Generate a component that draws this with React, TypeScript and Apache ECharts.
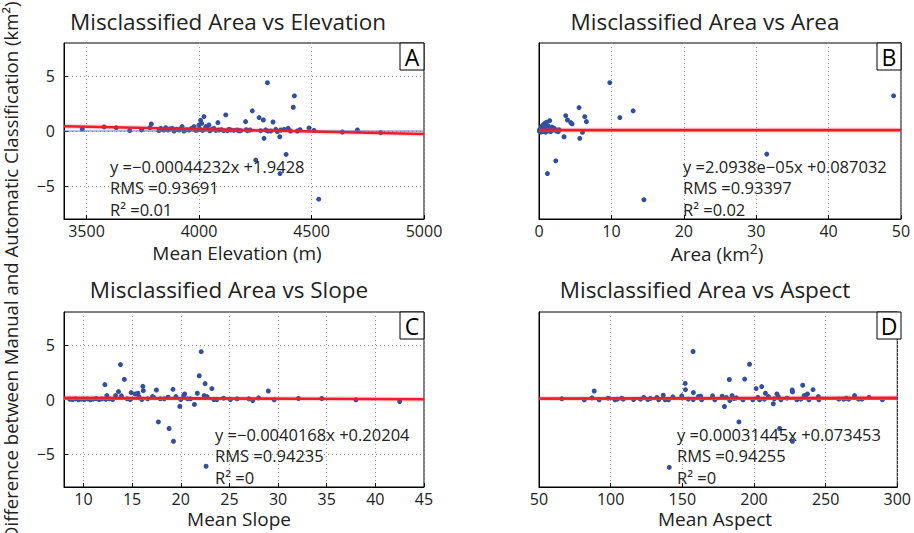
import React, { useEffect, useRef } from "react";
import * as echarts from "echarts";

// ---- Data ----
const elevationPoints: number[][] = [
  [3481, 0.18], [3578, 0.37], [3632, 0.30], [3692, 0.03], [3745, 0.10], [3782, 0.30], [3788, 0.64],
  [3822, 0.03], [3830, 0.24], [3838, 0.12], [3844, 0.09], [3852, 0.30], [3862, 0.09], [3870, 0.18],
  [3881, 0.24], [3889, 0.00], [3900, 0.15], [3911, 0.09], [3921, 0.24], [3925, 0.40], [3933, 0.00],
  [3945, 0.12], [3956, 0.09], [3967, 0.24], [3978, 0.40], [3985, 0.05], [3993, 0.09], [4000, 0.55],
  [4004, 0.18], [4007, 0.97], [4012, 0.70], [4016, 0.05], [4022, 1.31], [4026, 0.15], [4030, 0.40],
  [4037, 0.24], [4044, 0.55], [4048, 0.02], [4052, 0.09], [4060, 0.18], [4067, 0.24], [4075, 0.05],
  [4084, 0.76], [4089, 0.09], [4100, 0.12], [4110, 0.03], [4119, 1.46], [4126, 0.03], [4133, 0.15],
  [4141, 0.09], [4155, 0.05], [4170, 0.09], [4178, 0.02], [4185, 0.03], [4207, 0.85], [4210, 0.12],
  [4215, 0.03], [4227, 0.09], [4237, 1.83], [4252, -2.65], [4267, 1.22], [4274, 0.03], [4286, 1.00],
  [4289, -0.67], [4296, 0.10], [4304, 4.39], [4306, 0.00], [4319, 0.00], [4329, 0.82], [4341, 0.15],
  [4348, -0.06], [4359, -0.52], [4360, -3.87], [4363, 0.09], [4378, 0.15], [4387, -2.13], [4396, 0.24],
  [4407, 0.00], [4419, 2.16], [4424, 3.20], [4437, 0.00], [4449, 0.12], [4489, 0.27], [4511, 0.06],
  [4532, -6.20], [4637, -0.09], [4704, 0.09], [4807, -0.15],
];

const areaPoints: number[][] = [
  [0.05, 0.0], [0.1, 0.15], [0.15, -0.05], [0.2, 0.05], [0.25, 0.1], [0.3, -0.1], [0.34, 0.4], [0.4, 0.0],
  [0.45, 0.2], [0.5, -0.05], [0.57, 0.55], [0.6, 0.1], [0.7, 0.3], [0.75, 0.0], [0.8, 0.7], [0.85, 0.15],
  [0.9, -0.1], [1.02, 0.79], [1.1, 0.3], [1.16, -3.87], [1.2, 0.0], [1.25, 0.09], [1.3, 0.45], [1.48, 0.94],
  [1.5, 0.2], [1.6, -0.05], [1.7, 0.03], [1.8, 0.35], [2.0, 0.1], [2.1, 0.24], [2.31, -2.71], [2.4, 0.0],
  [2.55, 0.09], [2.65, -0.06], [2.8, 0.1], [3.46, -0.52], [3.69, 1.39], [3.93, 1.0], [4.39, 0.76],
  [4.57, 0.64], [5.53, 2.13], [5.63, -0.67], [6.0, -0.12], [6.32, 1.3], [6.55, 0.85], [9.78, 4.39],
  [11.17, 1.22], [13.0, 1.83], [14.49, -6.25], [31.46, -2.1], [48.98, 3.2],
];

const slopePoints: number[][] = [
  [8.6, 0.02], [8.9, 0.0], [9.2, 0.05], [9.5, -0.02], [9.8, 0.03], [10.1, 0.0], [10.4, 0.05], [10.7, -0.02],
  [11.0, 0.03], [11.3, 0.08], [11.6, 0.0], [11.9, 0.05], [12.2, 1.36], [12.3, 0.02], [12.4, 0.36],
  [12.7, 0.05], [13.0, 0.0], [13.3, 0.36], [13.6, 0.72], [13.8, 3.19], [13.9, 0.33], [14.2, 1.84],
  [14.5, 0.06], [14.8, 0.0], [14.9, 0.63], [15.3, 0.51], [15.6, 0.57], [15.7, 0.27], [16.0, 0.0],
  [16.1, 1.2], [16.15, 0.81], [16.6, 0.06], [17.1, 0.27], [17.2, 0.21], [17.5, 0.87], [17.7, -2.05],
  [17.9, 0.06], [18.3, 0.06], [18.7, 0.21], [18.8, -2.65], [19.2, 0.93], [19.25, -3.82], [19.5, 0.27],
  [19.9, -0.63], [20.0, 0.0], [20.3, 0.36], [20.4, 0.51], [20.7, 0.06], [21.0, 0.06], [21.4, -0.45],
  [21.7, 0.57], [21.9, 2.17], [22.1, 4.37], [22.4, 0.36], [22.5, 1.45], [22.6, -6.1], [22.7, 0.27],
  [23.2, 1.0], [23.4, 0.0], [23.7, 0.0], [24.4, 0.12], [25.1, 0.0], [25.8, 0.06], [27.0, 0.06],
  [27.4, -0.09], [28.0, 0.15], [29.0, 0.78], [29.6, -0.03], [32.1, 0.09], [34.5, 0.09], [38.0, -0.03],
  [42.5, -0.18],
];

const aspectPoints: number[][] = [
  [65.9, 0.06], [81.6, -0.03], [86.9, 0.15], [88.5, 0.78], [92, -0.03], [98.2, 0.12], [103, -0.03],
  [104.7, 0.03], [107.7, 0.12], [108.8, 0.03], [116, 0], [120.8, 0.03], [123.1, 0.18], [125.9, 0],
  [127.7, 0.09], [132.3, 0.18], [133.5, -0.03], [136.7, 0.39], [138.1, -0.03], [140.4, -0.03],
  [140.9, -6.2], [143.4, 0.24], [149.6, 0.33], [152, 1.47], [152.2, 0.9], [154.2, 0.03], [157.5, 4.39],
  [157.6, 0], [157.7, 0.63], [161.2, 0.27], [162.8, 0.3], [163.5, -0.03], [171.1, 0.33], [172.7, -0.03],
  [177.8, 0.3], [179.4, -0.64], [180.7, 0.18], [182.8, 1.83], [183.1, -0.09], [184.7, 0.36], [186.1, 0.09],
  [187.7, 0.15], [189.5, -2.05], [192.3, -0.03], [193.5, 1.87], [196.9, 3.22], [199.2, -0.03], [201.5, 1.0],
  [202.7, 0.18], [203.9, -0.03], [205.4, 1.18], [207.3, 0.03], [208.0, 0.57], [210.1, 0.27], [213.5, -0.39],
  [214.2, 0.06], [216, 0.51], [217, 0.27], [217.9, -2.65], [218.8, -0.03], [223, 0.12], [226.7, 0.87],
  [226.9, 0.69], [226.8, -3.82], [229.9, -0.03], [232.7, 0.03], [234, 1.3], [235, 0.36], [236.1, 0.21],
  [237.3, 0.51], [238.4, -0.03], [241.2, 0.9], [244.9, 0.27], [245.3, -0.03], [259.2, 0.03], [262.6, 0.03],
  [264.4, 0.12], [266.1, 0.03], [270.2, 0.36], [273, 0.03], [275.3, 0.03], [280.3, 0.18], [289.6, -0.03],
];

const panelTitles = [
  "Misclassified Area vs Elevation",
  "Misclassified Area vs Area",
  "Misclassified Area vs Slope",
  "Misclassified Area vs Aspect",
];
const panelLetters = ["A", "B", "C", "D"];
const fitSlopes = [-0.00044232, 2.0938e-5, -0.0040168, 0.00031445];
const fitIntercepts = [1.9428, 0.087032, 0.20204, 0.073453];
const fitEquations = [
  "y =\u22120.00044232x +1.9428",
  "y =2.0938e\u221205x +0.087032",
  "y =\u22120.0040168x +0.20204",
  "y =0.00031445x +0.073453",
];
const rmsValues = ["0.93691", "0.93397", "0.94235", "0.94255"];
const r2Values = ["0.01", "0.02", "0", "0"];
const xMins = [3400, 0, 8, 50];
const xMaxs = [5000, 50, 45, 300];
const xTicks = [
  [3500, 4000, 4500, 5000],
  [0, 10, 20, 30, 40, 50],
  [10, 15, 20, 25, 30, 35, 40, 45],
  [50, 100, 150, 200, 250, 300],
];
const yTicks = [-5, 0, 5];
const yMin = -8;
const yMax = 8;

const FONT = "Open Sans";

export default function App() {
  const ref = useRef<HTMLDivElement>(null);
  useEffect(() => {
    if (!ref.current) return;
    const chart = echarts.init(ref.current, null, { renderer: "svg" });
    const datasets = [elevationPoints, areaPoints, slopePoints, aspectPoints];
    const grids = [
      { left: 64, top: 43, width: 360, height: 176 },
      { left: 539, top: 43, width: 362, height: 176 },
      { left: 64, top: 312, width: 360, height: 175 },
      { left: 539, top: 312, width: 362, height: 175 },
    ];
    const showY = [true, false, true, false];

    const series: any[] = [];
    datasets.forEach((d, i) => {
      series.push({
        type: "line",
        xAxisIndex: i,
        yAxisIndex: i,
        data: [[xMins[i], 0], [xMaxs[i], 0]],
        symbol: "none",
        lineStyle: { color: "#5a7fc0", width: 1 },
        silent: true,
      });
      series.push({
        type: "scatter",
        xAxisIndex: i,
        yAxisIndex: i,
        data: d,
        symbolSize: 5,
        itemStyle: { color: "#2f4f9f", opacity: 1 },
      });
      const fit = [
        [xMins[i], fitSlopes[i] * xMins[i] + fitIntercepts[i]],
        [xMaxs[i], fitSlopes[i] * xMaxs[i] + fitIntercepts[i]],
      ];
      series.push({
        type: "line",
        xAxisIndex: i,
        yAxisIndex: i,
        data: fit,
        symbol: "none",
        lineStyle: { color: "rgba(235,60,70,0.2)", width: 5 },
        silent: true,
      });
      series.push({
        type: "line",
        xAxisIndex: i,
        yAxisIndex: i,
        data: fit,
        symbol: "none",
        lineStyle: { color: "#e8202a", width: 2.5 },
        silent: true,
      });
    });

    const textStyleBase = { fontFamily: FONT, fill: "#222" };
    const titlePos = [[228, 21], [705, 21], [229, 289], [705, 289]];
    const namePos = [[237, 253], [717, 254], [239, 519], [715, 519]];
    const eqPos = [[110, 166], [683, 166], [215, 434], [677, 434]];
    const letterBox = [[400, 43], [877, 43], [400, 312], [877, 312]];

    const graphic: any[] = [];
    panelTitles.forEach((t, i) => {
      graphic.push({
        type: "text",
        x: titlePos[i][0],
        y: titlePos[i][1],
        style: { ...textStyleBase, text: t, fontSize: 22.5, textAlign: "center", textVerticalAlign: "middle" },
      });
      graphic.push({
        type: "rect",
        shape: { x: letterBox[i][0], y: letterBox[i][1], width: 24, height: 27 },
        style: { fill: "#fff", stroke: "#000", lineWidth: 1 },
        z: 10,
      });
      graphic.push({
        type: "text",
        x: letterBox[i][0] + 12,
        y: letterBox[i][1] + 14,
        z: 11,
        style: { ...textStyleBase, fill: "#000", text: panelLetters[i], fontSize: 23, textAlign: "center", textVerticalAlign: "middle" },
      });
      const lines = [fitEquations[i], "RMS =" + rmsValues[i], "R\u00B2 =" + r2Values[i]];
      lines.forEach((ln, k) => {
        graphic.push({
          type: "text",
          x: eqPos[i][0],
          y: eqPos[i][1] + k * 21.5,
          z: 12,
          style: { ...textStyleBase, text: ln, fontSize: 16.5, textAlign: "left", textVerticalAlign: "middle" },
        });
      });
    });
    const axisNames = ["Mean Elevation (m)", "Area (km{sup|2})", "Mean Slope", "Mean Aspect"];
    axisNames.forEach((n, i) => {
      graphic.push({
        type: "text",
        x: namePos[i][0],
        y: namePos[i][1],
        style: {
          ...textStyleBase,
          text: n,
          fontSize: 19,
          textAlign: "center",
          textVerticalAlign: "middle",
          rich: { sup: { fontSize: 14, verticalAlign: "top", padding: [0, 0, 12, 0], fontFamily: FONT, fill: "#222" } },
        },
      });
    });
    graphic.push({
      type: "text",
      x: 10,
      y: 540,
      rotation: Math.PI / 2,
      style: {
        ...textStyleBase,
        text: "Difference between Manual and Automatic Classification (km\u00B2)",
        fontSize: 18.6,
        textAlign: "left",
        textVerticalAlign: "middle",
      },
    });

    const fmt = (v: number) => (v < 0 ? "\u2212" + Math.abs(v) : String(v));
    const option: any = {
      animation: false,
      backgroundColor: "#fff",
      grid: grids.map((g) => ({ ...g, show: true, borderColor: "#000", borderWidth: 1, backgroundColor: "transparent", containLabel: false })),
      xAxis: grids.map((_, i) => ({
        type: "value",
        gridIndex: i,
        min: xMins[i],
        max: xMaxs[i],
        axisLine: { show: true, onZero: false, lineStyle: { color: "#000", width: 1 } },
        axisTick: { show: true, inside: true, length: 4, customValues: xTicks[i], lineStyle: { color: "#000" } },
        axisLabel: { show: true, customValues: xTicks[i], fontSize: 16, color: "#222", fontFamily: FONT, margin: 4, formatter: fmt },
        splitLine: { show: true, lineStyle: { type: [1, 3], color: "#999", width: 1 } },
      })),
      yAxis: grids.map((_, i) => ({
        type: "value",
        gridIndex: i,
        min: yMin,
        max: yMax,
        axisLine: { show: true, lineStyle: { color: "#000", width: 1 } },
        axisTick: { show: showY[i], inside: true, length: 4, customValues: yTicks, lineStyle: { color: "#000" } },
        axisLabel: { show: showY[i], customValues: yTicks, fontSize: 16, color: "#222", fontFamily: FONT, margin: 9, formatter: fmt },
        splitLine: { show: showY[i], lineStyle: { type: [1, 3], color: "#999", width: 1 } },
      })),
      series,
      graphic,
    };
    chart.setOption(option);
    return () => chart.dispose();
  }, []);
  return <div ref={ref} style={{ position: "fixed", left: 0, top: 0, width: 914, height: 533 }} />;
}
